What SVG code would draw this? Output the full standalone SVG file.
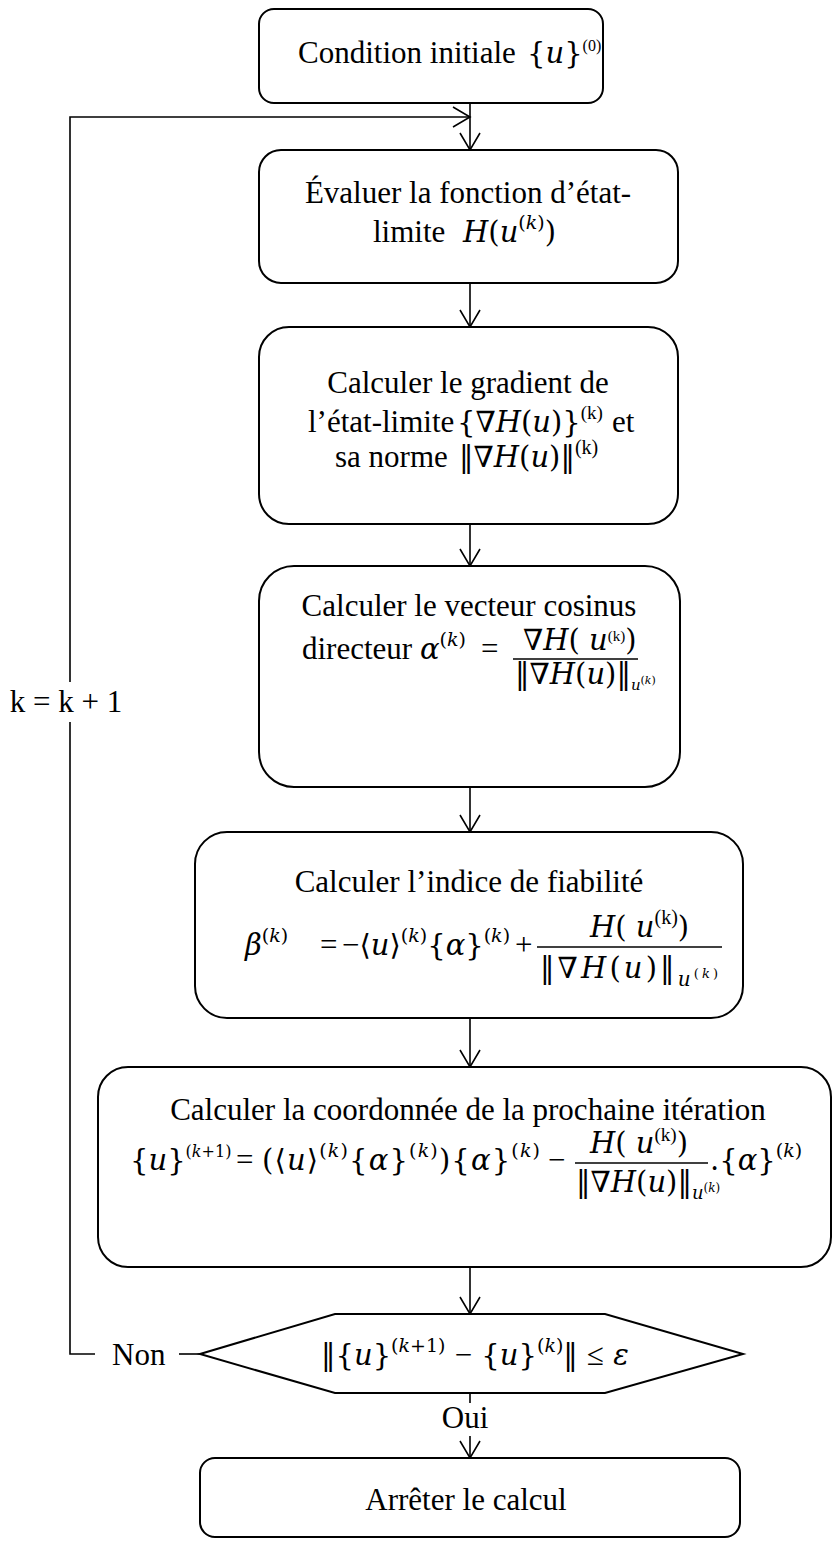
<svg xmlns="http://www.w3.org/2000/svg" width="833" height="1541" viewBox="0 0 833 1541">
<defs>
<style>
.t{font-family:"Liberation Serif","DejaVu Serif",serif;font-size:31px;fill:#000}
.m{font-family:"DejaVu Serif","DejaVu Sans",serif;font-size:29px;fill:#000}
.i{font-style:italic}
.op{font-family:"Liberation Serif","DejaVu Serif",serif}
.box{fill:#fff;stroke:#000;stroke-width:2}
.c{fill:none;stroke:#000;stroke-width:1.6}
.bar{stroke:#000;stroke-width:1.5}
</style>
<marker id="ah" markerUnits="userSpaceOnUse" viewBox="-20 -12 22 24" markerWidth="22" markerHeight="24" refX="0" refY="0" orient="auto"><path d="M-17,-10 L0,0 L-17,10" fill="none" stroke="#000" stroke-width="1.6"/></marker>
</defs>
<rect width="833" height="1541" fill="#fff"/>

<g id="connectors">
<path class="c" d="M470,103 V150" marker-end="url(#ah)"/>
<path class="c" d="M95,1354 H70 V722"/>
<path class="c" d="M70,682 V117 H470" marker-end="url(#ah)"/>
<path class="c" d="M470,283 V327" marker-end="url(#ah)"/>
<path class="c" d="M470,524 V566" marker-end="url(#ah)"/>
<path class="c" d="M470,787 V832" marker-end="url(#ah)"/>
<path class="c" d="M470,1018 V1067" marker-end="url(#ah)"/>
<path class="c" d="M470,1267 V1314" marker-end="url(#ah)"/>
<path class="c" d="M470,1393 V1403"/>
<path class="c" d="M470,1436 V1458" marker-end="url(#ah)"/>
<path class="c" d="M179,1354 H200"/>
<text class="t" x="66" y="712" text-anchor="middle">k = k + 1</text>
<text class="t" x="112" y="1365">Non</text>
<text class="t" x="465" y="1428" text-anchor="middle">Oui</text>
</g>

<g id="n1">
<rect class="box" x="259" y="9" width="344" height="94" rx="15"/>
<text class="t" x="298" y="63">Condition initiale</text>
<text class="m" x="527" y="63" font-size="23">{<tspan class="i">u</tspan>}<tspan class="op" font-size="16" dy="-12">(0)</tspan></text>
</g>

<g id="n2">
<rect class="box" x="259" y="150" width="419" height="133" rx="22"/>
<text class="t" x="468" y="203" text-anchor="middle">Évaluer la fonction d’état-</text>
<text class="t" x="373" y="242">limite</text>
<text class="m" x="463" y="242"><tspan class="i">H</tspan>(<tspan class="i">u</tspan><tspan font-size="19" dy="-13">(<tspan class="i">k</tspan>)</tspan><tspan dy="13">)</tspan></text>
</g>

<g id="n3">
<rect class="box" x="259" y="327" width="419" height="197" rx="30"/>
<text class="t" x="468" y="393" text-anchor="middle">Calculer le gradient de</text>
<text class="t" x="308" y="432">l’état-limite</text>
<text class="m" x="457" y="432" font-size="26">{<tspan class="i">∇H</tspan>(<tspan class="i">u</tspan>)}<tspan class="op" font-size="19" dy="-13">(k)</tspan></text>
<text class="t" x="612" y="432">et</text>
<text class="t" x="335" y="467">sa norme</text>
<text class="m" x="459" y="467" font-size="27">‖<tspan class="i">∇H</tspan>(<tspan class="i">u</tspan>)‖<tspan class="op" font-size="20" dy="-13">(k)</tspan></text>
</g>

<g id="n4">
<rect class="box" x="259" y="566" width="421" height="221" rx="35"/>
<text class="t" x="469" y="616" text-anchor="middle">Calculer le vecteur cosinus</text>
<text class="t" x="302" y="659">directeur</text>
<text class="m" x="420" y="659"><tspan class="i">α</tspan><tspan font-size="19" dy="-13">(<tspan class="i">k</tspan>)</tspan></text>
<text class="t" x="481" y="659">=</text>
<line class="bar" x1="513" y1="659" x2="638" y2="659"/>
<text class="m" font-size="21" x="523" y="650"><tspan class="i">∇H</tspan>( <tspan class="i">u</tspan><tspan class="op" font-size="15" dy="-9">(k)</tspan><tspan dy="9">)</tspan></text>
<text class="m" font-size="21" x="515" y="684">‖<tspan class="i">∇H</tspan>(<tspan class="i">u</tspan>)‖<tspan class="i" font-size="15" dy="6">u</tspan><tspan font-size="11" dy="-6">(<tspan class="i">k</tspan>)</tspan></text>
</g>

<g id="n5">
<rect class="box" x="195" y="832" width="548" height="186" rx="32"/>
<text class="t" x="469" y="892" text-anchor="middle">Calculer l’indice de fiabilité</text>
<text class="m" x="245" y="955"><tspan class="i">β</tspan><tspan font-size="19" dy="-13">(<tspan class="i">k</tspan>)</tspan></text>
<text class="t" x="320" y="955">=</text>
<text class="m" x="342" y="955"><tspan class="op" font-size="31">−</tspan>⟨<tspan class="i">u</tspan>⟩<tspan font-size="19" dy="-13">(<tspan class="i">k</tspan>)</tspan><tspan dy="13">{</tspan><tspan class="i">α</tspan>}<tspan font-size="19" dy="-13">(<tspan class="i">k</tspan>)</tspan></text>
<text class="t" x="515" y="955">+</text>
<line class="bar" x1="537" y1="947" x2="722" y2="947"/>
<text class="m" x="590" y="937"><tspan class="i">H</tspan>( <tspan class="i">u</tspan><tspan class="op" font-size="20" dy="-13">(k)</tspan><tspan dy="13">)</tspan></text>
<text class="m" x="540" y="978" font-size="30" textLength="178">‖<tspan class="i">∇H</tspan>(<tspan class="i">u</tspan>)‖<tspan class="i" font-size="20" dy="8">u</tspan><tspan font-size="13" dy="-8">(<tspan class="i">k</tspan>)</tspan></text>
</g>

<g id="n6">
<rect class="box" x="98" y="1067" width="733" height="200" rx="30"/>
<text class="t" x="468" y="1120" text-anchor="middle">Calculer la coordonnée de la prochaine itération</text>
<text class="m" x="130" y="1170" font-size="26">{<tspan class="i">u</tspan>}<tspan font-size="16" dy="-13">(<tspan class="i">k</tspan>+1)</tspan></text>
<text class="t" x="236" y="1170">=</text>
<text class="m" x="262" y="1170" textLength="278">(⟨<tspan class="i">u</tspan>⟩<tspan font-size="19" dy="-13">(<tspan class="i">k</tspan>)</tspan><tspan dy="13">{</tspan><tspan class="i">α</tspan>}<tspan font-size="19" dy="-13">(<tspan class="i">k</tspan>)</tspan><tspan dy="13">){</tspan><tspan class="i">α</tspan>}<tspan font-size="19" dy="-13">(<tspan class="i">k</tspan>)</tspan></text>
<text class="t" x="548" y="1170">−</text>
<line class="bar" x1="575" y1="1163" x2="708" y2="1163"/>
<text class="m" font-size="27" x="590" y="1153"><tspan class="i">H</tspan>( <tspan class="i">u</tspan><tspan class="op" font-size="19" dy="-12">(k)</tspan><tspan dy="12">)</tspan></text>
<text class="m" font-size="26" x="576" y="1192">‖<tspan class="i">∇H</tspan>(<tspan class="i">u</tspan>)‖<tspan class="i" font-size="18" dy="7">u</tspan><tspan font-size="12" dy="-7">(<tspan class="i">k</tspan>)</tspan></text>
<text class="m" x="710" y="1170">.{<tspan class="i">α</tspan>}<tspan font-size="19" dy="-13">(<tspan class="i">k</tspan>)</tspan></text>
</g>

<g id="n7">
<polygon class="box" points="200,1354 335,1314 605,1314 743,1354 605,1393 335,1393"/>
<text class="m" x="321" y="1365">‖{<tspan class="i">u</tspan>}<tspan font-size="19" dy="-13">(<tspan class="i">k</tspan>+1)</tspan><tspan dy="13"> </tspan><tspan class="op" font-size="31">−</tspan> {<tspan class="i">u</tspan>}<tspan font-size="19" dy="-13">(<tspan class="i">k</tspan>)</tspan><tspan dy="13">‖ </tspan><tspan class="op" font-size="31">≤</tspan> <tspan class="i">ε</tspan></text>
</g>

<g id="n8">
<rect class="box" x="200" y="1458" width="540" height="79" rx="15"/>
<text class="t" x="466" y="1510" text-anchor="middle">Arrêter le calcul</text>
</g>
</svg>
